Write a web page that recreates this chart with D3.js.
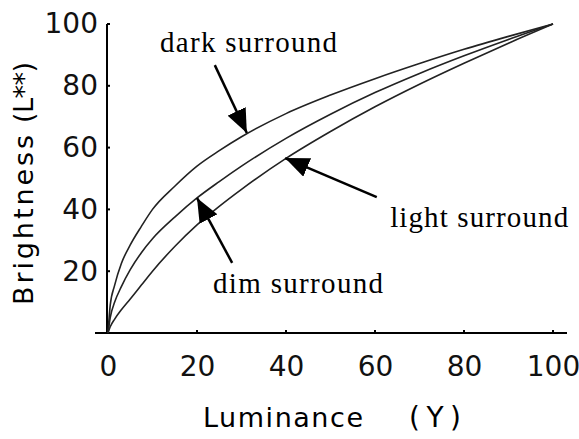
<!DOCTYPE html>
<html>
<head>
<meta charset="utf-8">
<script src="https://cdn.jsdelivr.net/npm/d3@7"></script>
<style>
  body { margin: 0; background: #fff; }
  svg { display: block; }
</style>
</head>
<body>
<script>
'use strict';

const luminance = [0, 0.5, 1.5, 3, 5, 7.5, 10, 15, 20, 25, 30, 40, 50, 60, 70, 80, 90, 100];

// brightness for each surround
const darkSurround  = [0, 9, 15.5, 22.5, 28.5, 34.5, 40, 47.5, 54, 59, 63.5, 71, 77, 82.3, 87.2, 91.8, 96, 100];
const dimSurround   = [0, 5, 10, 15, 20.5, 26, 30.5, 37.5, 43.7, 49, 54, 63, 70.8, 77.8, 84, 89.7, 95, 100];
const lightSurround = [0, 2, 4.5, 7.5, 11, 15.5, 20, 28, 35, 41, 46.5, 56.5, 65.2, 73.2, 80.5, 87.3, 93.8, 100];

const xTicks = [0, 20, 40, 60, 80, 100];
const yTicks = [20, 40, 60, 80, 100];

// annotation labels and arrows, in data units
const noteLabels = ["dark surround", "light surround", "dim surround"];
const noteTextAt = [[11.7, 90.9], [63.4, 34.3], [23.6, 12.9]];
const noteArrowFrom = [[24.0, 86.7], [60.4, 44.0], [27.9, 22.7]];
const noteArrowTo = [[31.2, 64.7], [39.8, 56.6], [20.0, 43.7]];

const m = { width: 579, height: 439 };

const svg = d3.select('body')
  .append('svg')
  .attr('width', m.width)
  .attr('height', m.height);

const x = d3.scaleLinear().domain([0, 100]).range([108, 553]);
const y = d3.scaleLinear().domain([0, 100]).range([333, 24]);

const tickFont = (g) => g.selectAll('text')
  .style('font-family', 'DejaVu Sans')
  .style('font-size', '28px')
  .attr('fill', '#111');

// y axis: labels from d3, line and inward ticks drawn by hand
svg.append('g')
  .attr('transform', 'translate(107, 0)')
  .call(d3.axisLeft(y).tickValues(yTicks).tickSize(0).tickPadding(9))
  .call(g => g.select('.domain').remove())
  .call(g => g.selectAll('.tick line').remove())
  .call(tickFont);

svg.append('line')
  .attr('x1', 107).attr('x2', 107)
  .attr('y1', y(100)).attr('y2', y(0))
  .attr('stroke', '#000')
  .attr('stroke-width', 2);

svg.selectAll('.ytick')
  .data(yTicks)
  .enter()
  .append('line')
  .attr('class', 'ytick')
  .attr('x1', 107).attr('x2', 110)
  .attr('y1', (d) => y(d)).attr('y2', (d) => y(d))
  .attr('stroke', '#000')
  .attr('stroke-width', 2);

// x axis; its line runs a bit past both ends
svg.append('g')
  .attr('transform', 'translate(0, 333)')
  .call(d3.axisBottom(x).tickValues(xTicks).tickSize(0).tickPadding(23))
  .call(g => g.select('.domain').remove())
  .call(g => g.selectAll('.tick line').remove())
  .call(tickFont);

svg.append('line')
  .attr('x1', x.range()[0] - 13)
  .attr('x2', x.range()[1] + 14)
  .attr('y1', 333)
  .attr('y2', 333)
  .attr('stroke', '#000')
  .attr('stroke-width', 2);

svg.selectAll('.xtick')
  .data(xTicks.slice(1))
  .enter()
  .append('line')
  .attr('class', 'xtick')
  .attr('x1', (d) => x(d)).attr('x2', (d) => x(d))
  .attr('y1', 333).attr('y2', 330)
  .attr('stroke', '#000')
  .attr('stroke-width', 2);

// axis titles, split so the word spacing can follow the picture
const yTitle = svg.append('g')
  .attr('transform', 'translate(33, 305) rotate(-90)');
yTitle.append('text')
  .attr('x', 0)
  .attr('textLength', 170)
  .attr('lengthAdjust', 'spacing')
  .style('font-family', 'DejaVu Sans')
  .style('font-size', '27px')
  .text('Brightness');
yTitle.append('text')
  .attr('x', 182)
  .attr('textLength', 61)
  .attr('lengthAdjust', 'spacing')
  .style('font-family', 'DejaVu Sans')
  .style('font-size', '27px')
  .text('(L**)');

svg.append('text')
  .attr('x', 203)
  .attr('y', 427)
  .attr('textLength', 160)
  .attr('lengthAdjust', 'spacing')
  .style('font-family', 'DejaVu Sans')
  .style('font-size', '27px')
  .text('Luminance');
svg.append('text')
  .attr('x', 409)
  .attr('y', 427)
  .attr('textLength', 52)
  .attr('lengthAdjust', 'spacing')
  .style('font-family', 'DejaVu Sans')
  .style('font-size', '28px')
  .text('(Y)');

// the three curves
const line = d3.line()
  .x((d) => x(d[0]))
  .y((d) => y(d[1]))
  .curve(d3.curveMonotoneX);

[darkSurround, dimSurround, lightSurround].forEach((series) => {
  svg.append('path')
    .datum(luminance.map((v, i) => [v, series[i]]))
    .attr('d', line)
    .attr('fill', 'none')
    .attr('stroke', '#222')
    .attr('stroke-width', 1.6);
});

// arrow head marker
svg.append('defs').append('marker')
  .attr('id', 'head')
  .attr('viewBox', '0 0 24 20')
  .attr('refX', 24)
  .attr('refY', 10)
  .attr('markerWidth', 24)
  .attr('markerHeight', 20)
  .attr('markerUnits', 'userSpaceOnUse')
  .attr('orient', 'auto')
  .append('path')
  .attr('d', 'M0,0 L24,10 L0,20 Z')
  .attr('fill', '#000');

noteLabels.forEach((label, i) => {
  svg.append('line')
    .attr('x1', x(noteArrowFrom[i][0]))
    .attr('y1', y(noteArrowFrom[i][1]))
    .attr('x2', x(noteArrowTo[i][0]))
    .attr('y2', y(noteArrowTo[i][1]))
    .attr('stroke', '#000')
    .attr('stroke-width', 2.5)
    .attr('marker-end', 'url(#head)');
});

const noteLengths = [177, 178, 170];
noteLabels.forEach((label, i) => {
  svg.append('text')
    .attr('x', x(noteTextAt[i][0]))
    .attr('y', y(noteTextAt[i][1]))
    .attr('textLength', noteLengths[i])
    .attr('lengthAdjust', 'spacing')
    .style('font-family', 'Liberation Serif')
    .style('font-size', '29px')
    .text(label);
});
</script>
</body>
</html>
